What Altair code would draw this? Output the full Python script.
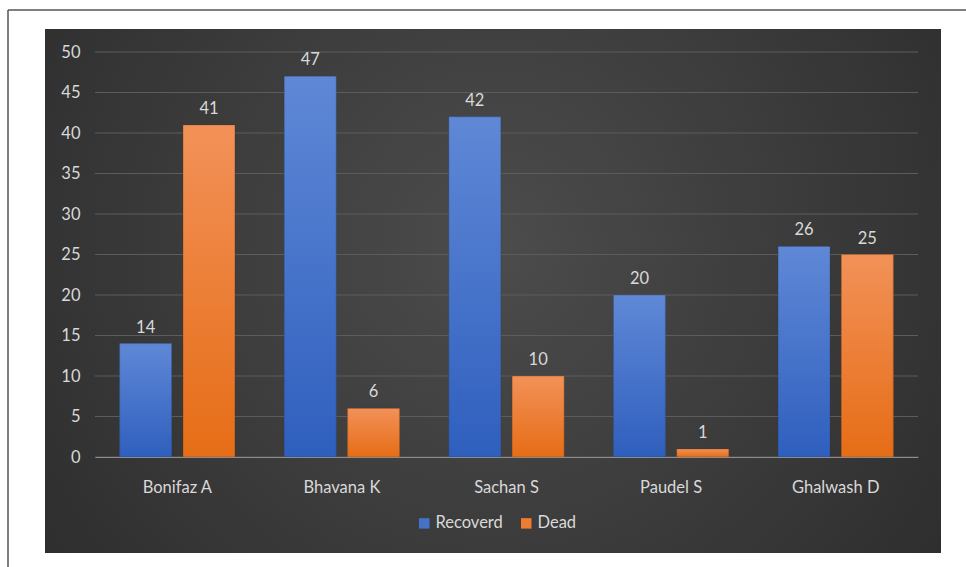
import altair as alt
import pandas as pd

# Reported outcomes per study
authors = ["Bonifaz A", "Bhavana K", "Sachan S", "Paudel S", "Ghalwash D"]
recovered = [14, 47, 42, 20, 26]
dead = [41, 6, 10, 1, 25]
series_names = ["Recoverd", "Dead"]
y_ticks = [0, 5, 10, 15, 20, 25, 30, 35, 40, 45, 50]

rows = []
for a, r, d in zip(authors, recovered, dead):
    rows.append({"author": a, "series": "Recoverd", "value": r})
    rows.append({"author": a, "series": "Dead", "value": d})
df = pd.DataFrame(rows)

FONT = "Lato"
FS = 16.5
TXT = "#d9d9d9"

blue_grad = alt.LinearGradient(
    gradient="linear", x1=0, y1=0, x2=0, y2=1,
    stops=[alt.GradientStop(color="#5f88d6", offset=0),
           alt.GradientStop(color="#2f5fbe", offset=1)],
)
orange_grad = alt.LinearGradient(
    gradient="linear", x1=0, y1=0, x2=0, y2=1,
    stops=[alt.GradientStop(color="#f29158", offset=0),
           alt.GradientStop(color="#e66d16", offset=1)],
)
panel_grad = alt.RadialGradient(
    gradient="radial", x1=0.5, y1=0.45, r1=0, x2=0.5, y2=0.45, r2=0.75,
    stops=[alt.GradientStop(color="#4c4c4c", offset=0),
           alt.GradientStop(color="#272727", offset=1)],
)

y_scale = alt.Scale(domain=[0, 50], nice=False)

x_enc = alt.X("author:N", sort=authors, title=None,
              scale=alt.Scale(paddingInner=0.3, paddingOuter=0.15),
              axis=alt.Axis(labelAngle=0, ticks=False, domainColor="#8c8c8c",
                            domainWidth=1.2, labelPadding=22, labelColor=TXT,
                            labelFont=FONT, labelFontSize=FS, grid=False, zindex=2))
xo_enc = alt.XOffset("series:N", sort=series_names,
                     scale=alt.Scale(paddingInner=0.18, paddingOuter=0))
y_enc = alt.Y("value:Q", title=None, scale=y_scale,
              axis=alt.Axis(values=y_ticks, ticks=False, domain=False, grid=False,
                            labelPadding=15, labelColor=TXT, labelFont=FONT,
                            labelFontSize=FS, zindex=2))

one = pd.DataFrame({"k": [0]})

# page frame (top and left edges) and dark panel behind the plot
frame_top = alt.Chart(one).mark_rule(color="#555555", strokeWidth=1.5).encode(
    x=alt.value(-87), x2=alt.value(900), y=alt.value(-42))
frame_left = alt.Chart(one).mark_rule(color="#555555", strokeWidth=1.5).encode(
    x=alt.value(-87), y=alt.value(-42), y2=alt.value(600))
panel = alt.Chart(one).mark_rect(fill=panel_grad).encode(
    x=alt.value(-50), x2=alt.value(846), y=alt.value(-23), y2=alt.value(501))

# horizontal gridlines at each tick value
grid = alt.Chart(pd.DataFrame({"value": y_ticks})).mark_rule(
    color="#5c5c5c", strokeWidth=1
).encode(y=y_enc)

base = alt.Chart(df)

legend_bars = base.mark_bar().encode(
    x=x_enc, xOffset=xo_enc, y=y_enc,
    color=alt.Color("series:N", sort=series_names,
                    scale=alt.Scale(domain=series_names, range=["#4472c4", "#ed7d31"]),
                    legend=alt.Legend(title=None, orient="none", direction="horizontal",
                                      legendX=321, legendY=463, symbolType="square",
                                      symbolSize=110, symbolStrokeWidth=0,
                                      labelColor=TXT, labelFont=FONT, labelFontSize=FS,
                                      columnPadding=15, symbolOffset=0, labelOffset=3,
                                      zindex=2)),
)

blue_bars = base.transform_filter(alt.datum.series == "Recoverd").mark_bar(
    fill=blue_grad, stroke="#2a3550", strokeWidth=0.6, strokeOpacity=0.5
).encode(x=x_enc, xOffset=xo_enc, y=y_enc)

orange_bars = base.transform_filter(alt.datum.series == "Dead").mark_bar(
    fill=orange_grad, stroke="#5a3015", strokeWidth=0.6, strokeOpacity=0.5
).encode(x=x_enc, xOffset=xo_enc, y=y_enc)

labels = base.mark_text(baseline="bottom", dy=-8, font=FONT, fontSize=FS, color=TXT).encode(
    x=x_enc, xOffset=xo_enc, y=y_enc, text=alt.Text("value:Q"))

chart = alt.layer(frame_top, frame_left, panel, grid, legend_bars, blue_bars,
                  orange_bars, labels).properties(
    width=823, height=405,
    padding={"left": 95, "top": 52, "right": 48, "bottom": 110},
    autosize=alt.AutoSizeParams(type="none"),
    background="white",
).configure_view(stroke=None)

chart.save("out.html", embed_options={"renderer": "svg", "actions": False})
